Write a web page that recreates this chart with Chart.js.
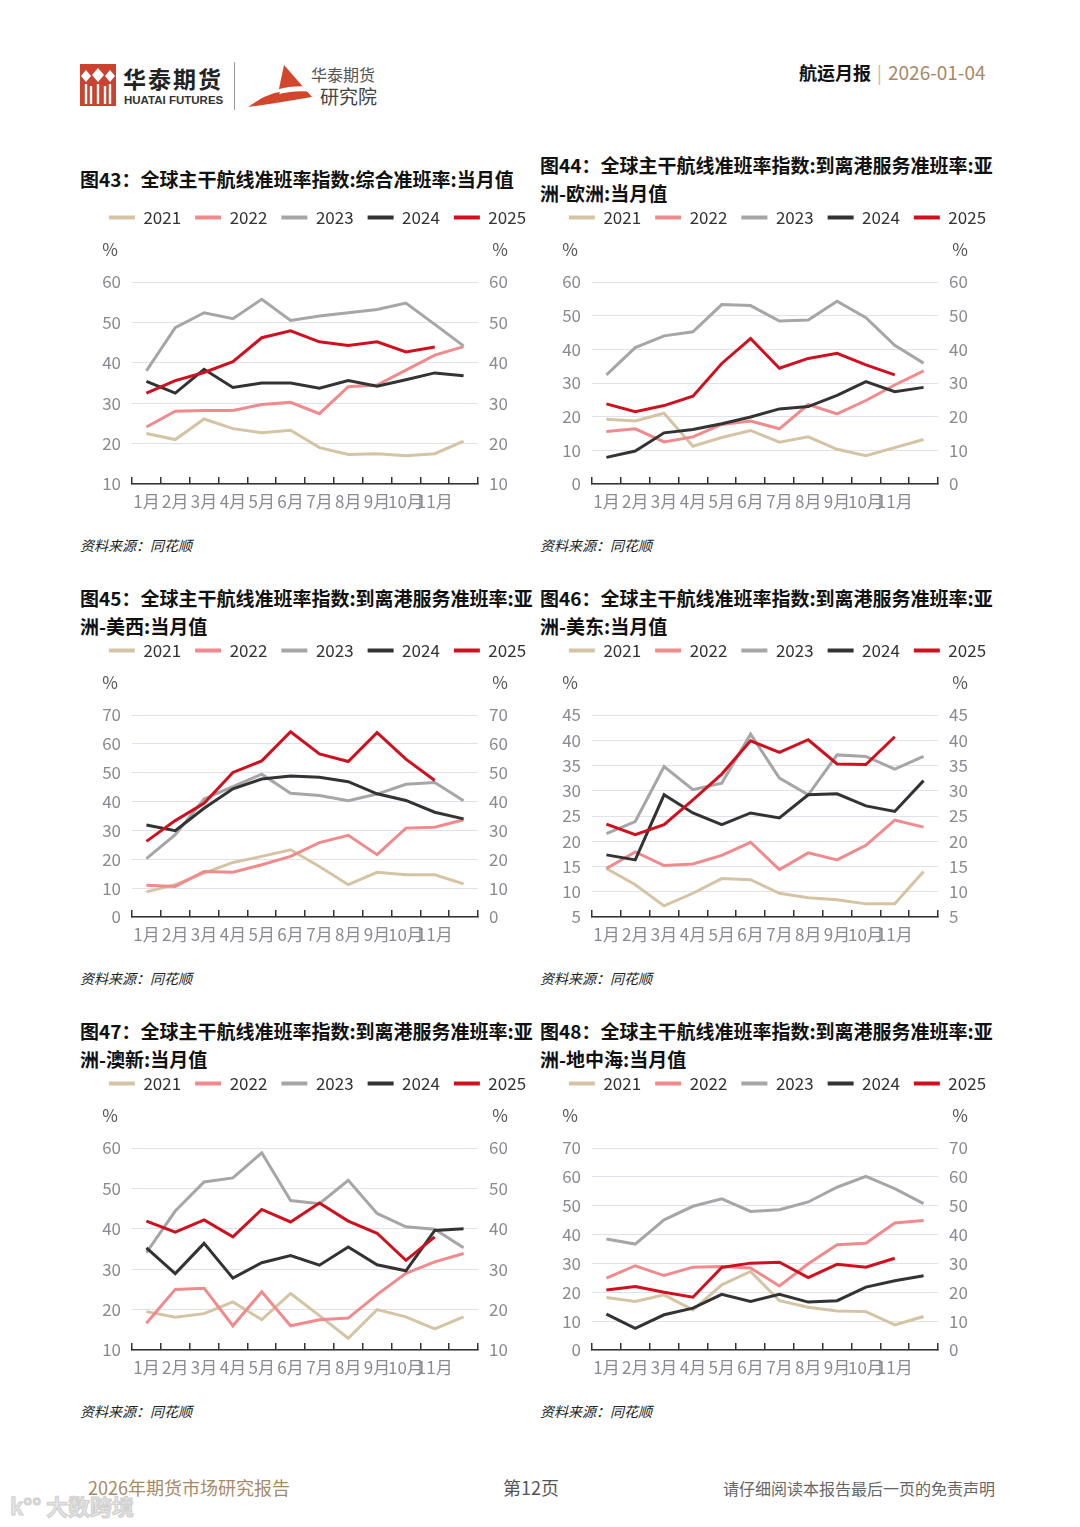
<!DOCTYPE html>
<html>
<head>
<meta charset="utf-8">
<script src="https://cdn.jsdelivr.net/npm/chart.js@4.4.1/dist/chart.umd.min.js"></script>
<style>
  body {
    margin: 0;
    width: 1080px;
    height: 1527px;
    background: #fff;
    position: relative;
    overflow: hidden;
    font-family: "Noto Sans CJK SC", "Noto Sans", sans-serif;
  }
  .abs { position: absolute; }
  .title {
    position: absolute;
    font-size: 19px;
    font-weight: bold;
    color: #111;
    line-height: 28px;
    white-space: nowrap;
  }
  .src {
    position: absolute;
    font-size: 14px;
    font-style: italic;
    color: #222;
    line-height: 20px;
  }
  canvas { position: absolute; }
</style>
</head>
<body>

<!-- header -->
<svg class="abs" style="left:80px;top:64px" width="36" height="42" viewBox="0 0 36 42">
  <rect x="0" y="0" width="36" height="42" fill="#c9432e"/>
  <path d="M6 6 L11 12 L6 18 L1 12 Z M18 4 L24 11 L18 18 L12 11 Z M30 6 L35 12 L30 18 L25 12 Z" fill="#fff"/>
  <path d="M6 20 V40 M11 22 V40 M18 20 V40 M25 22 V40 M30 20 V40" stroke="#fff" stroke-width="2.4"/>
</svg>
<div class="abs" style="left:123px;top:64px;font-size:23px;font-weight:bold;color:#222;letter-spacing:2px;line-height:28px">华泰期货</div>
<div class="abs" style="left:124px;top:93px;font-size:11.5px;font-weight:bold;color:#333;line-height:14px;font-family:'Liberation Sans',sans-serif">HUATAI FUTURES</div>
<div class="abs" style="left:234px;top:62px;width:1px;height:48px;background:#999"></div>
<svg class="abs" style="left:246px;top:63px" width="68" height="46" viewBox="0 0 68 46">
  <path d="M38 2 L66 34 L30 40 Z" fill="#d2462b"/>
  <path d="M2 44 C20 30, 40 24, 64 26" stroke="#fff" stroke-width="5" fill="none"/>
  <path d="M2 44 C16 34, 26 30, 34 29 L30 40 Z" fill="#d2462b"/>
</svg>
<div class="abs" style="left:311px;top:64px;font-size:16px;color:#555;line-height:20px">华泰期货</div>
<div class="abs" style="left:320px;top:84px;font-size:19px;color:#444;line-height:24px">研究院</div>
<div class="abs" style="left:799px;top:60px;font-size:18px;font-weight:bold;color:#111;line-height:24px">航运月报</div>
<div class="abs" style="left:877px;top:60px;font-size:18px;color:#c8b49a;line-height:24px">|</div>
<div class="abs" style="left:888px;top:59px;font-size:19px;color:#a68a68;line-height:26px">2026-01-04</div>

<!-- titles -->
<div class="title" style="left:80px;top:165px">图43：全球主干航线准班率指数:综合准班率:当月值</div>
<div class="title" style="left:540px;top:151px">图44：全球主干航线准班率指数:到离港服务准班率:亚<br>洲-欧洲:当月值</div>
<div class="title" style="left:80px;top:584px">图45：全球主干航线准班率指数:到离港服务准班率:亚<br>洲-美西:当月值</div>
<div class="title" style="left:540px;top:584px">图46：全球主干航线准班率指数:到离港服务准班率:亚<br>洲-美东:当月值</div>
<div class="title" style="left:80px;top:1017px">图47：全球主干航线准班率指数:到离港服务准班率:亚<br>洲-澳新:当月值</div>
<div class="title" style="left:540px;top:1017px">图48：全球主干航线准班率指数:到离港服务准班率:亚<br>洲-地中海:当月值</div>

<canvas id="c43" width="475" height="328" style="left:80px;top:195px"></canvas>
<canvas id="c44" width="475" height="328" style="left:540px;top:195px"></canvas>
<canvas id="c45" width="475" height="328" style="left:80px;top:628px"></canvas>
<canvas id="c46" width="475" height="328" style="left:540px;top:628px"></canvas>
<canvas id="c47" width="475" height="328" style="left:80px;top:1061px"></canvas>
<canvas id="c48" width="475" height="328" style="left:540px;top:1061px"></canvas>

<div class="src" style="left:80px;top:535px">资料来源：同花顺</div>
<div class="src" style="left:540px;top:535px">资料来源：同花顺</div>
<div class="src" style="left:80px;top:968px">资料来源：同花顺</div>
<div class="src" style="left:540px;top:968px">资料来源：同花顺</div>
<div class="src" style="left:80px;top:1401px">资料来源：同花顺</div>
<div class="src" style="left:540px;top:1401px">资料来源：同花顺</div>

<!-- footer -->
<div class="abs" style="left:88px;top:1475px;font-size:18px;color:#a68a68;line-height:24px">2026年期货市场研究报告</div>
<div class="abs" style="left:503px;top:1475px;font-size:18px;color:#555;line-height:24px">第12页</div>
<div class="abs" style="left:723px;top:1477px;font-size:16px;color:#666;line-height:22px">请仔细阅读本报告最后一页的免责声明</div>
<div class="abs" style="left:10px;top:1491px;font-size:22px;font-weight:bold;color:#e4e4e4;line-height:28px;-webkit-text-stroke:1px #cfcfcf">k°° 大数跨境</div>

<script>
const months = ["1月", "2月", "3月", "4月", "5月", "6月", "7月", "8月", "9月", "10月", "11月", "12月"];
const years = ["2021", "2022", "2023", "2024", "2025"];
const lineColors = ["#d5c4a4", "#f08a8c", "#a6a6a6", "#333333", "#d0101e"];

// 图43 综合准班率
const f43_2021 = [22.5, 21.0, 26.1, 23.7, 22.7, 23.3, 19.0, 17.3, 17.5, 17.0, 17.5, 20.6];
const f43_2022 = [24.1, 28.0, 28.2, 28.2, 29.7, 30.2, 27.4, 34.1, 34.5, 38.2, 41.9, 44.0];
const f43_2023 = [38.0, 48.7, 52.4, 50.9, 55.7, 50.5, 51.6, 52.4, 53.2, 54.8, 49.5, 44.2];
const f43_2024 = [35.4, 32.5, 38.4, 33.9, 35.0, 35.0, 33.7, 35.6, 34.2, 35.8, 37.5, 36.8];
const f43_2025 = [32.5, 35.6, 37.6, 40.3, 46.2, 47.9, 45.2, 44.3, 45.2, 42.7, 43.9, null];

// 图44 亚洲-欧洲
const f44_2021 = [19.2, 18.7, 21.0, 11.2, 13.8, 15.9, 12.4, 14.0, 10.3, 8.4, 10.8, 13.2];
const f44_2022 = [15.6, 16.4, 12.5, 14.0, 17.7, 18.7, 16.4, 23.6, 20.8, 24.8, 29.4, 33.6];
const f44_2023 = [32.4, 40.5, 44.0, 45.2, 53.3, 53.0, 48.4, 48.7, 54.3, 49.4, 41.2, 35.9];
const f44_2024 = [7.9, 9.8, 15.2, 16.2, 17.9, 19.9, 22.3, 23.0, 26.3, 30.4, 27.4, 28.7];
const f44_2025 = [23.8, 21.5, 23.3, 26.1, 35.8, 43.2, 34.4, 37.3, 38.8, 35.4, 32.4, null];

// 图45 亚洲-美西
const f45_2021 = [8.7, 11.2, 15.2, 18.9, 21.0, 23.3, 17.5, 11.2, 15.5, 14.6, 14.6, 11.5];
const f45_2022 = [11.0, 10.6, 15.8, 15.5, 18.1, 21.0, 25.8, 28.3, 21.6, 30.8, 31.1, 33.7];
const f45_2023 = [20.2, 28.5, 40.9, 45.2, 49.5, 42.9, 42.1, 40.3, 42.6, 46.0, 46.6, 40.3];
const f45_2024 = [31.9, 29.9, 37.7, 44.4, 47.8, 48.9, 48.4, 46.9, 42.7, 40.4, 36.3, 34.0];
const f45_2025 = [26.2, 33.4, 39.4, 50.1, 54.1, 64.2, 56.5, 53.9, 63.9, 54.7, 47.3, null];

// 图46 亚洲-美东
const f46_2021 = [14.6, 11.4, 7.2, 9.7, 12.6, 12.4, 9.7, 8.8, 8.4, 7.6, 7.6, 14.0];
const f46_2022 = [14.6, 17.9, 15.2, 15.5, 17.2, 19.8, 14.4, 17.7, 16.3, 19.2, 24.2, 22.8];
const f46_2023 = [21.5, 23.9, 34.8, 30.2, 31.5, 41.2, 32.5, 29.2, 37.1, 36.8, 34.3, 36.8];
const f46_2024 = [17.3, 16.3, 29.2, 25.6, 23.3, 25.6, 24.6, 29.2, 29.4, 27.0, 25.9, 32.0];
const f46_2025 = [23.4, 21.3, 23.3, 28.2, 33.3, 39.9, 37.6, 40.1, 35.3, 35.2, 40.7, null];

// 图47 亚洲-澳新
const f47_2021 = [19.5, 18.1, 19.0, 21.9, 17.5, 24.0, 18.5, 12.9, 20.0, 18.2, 15.2, 18.2];
const f47_2022 = [16.6, 25.0, 25.3, 16.0, 24.4, 16.0, 17.5, 17.9, 23.7, 29.0, 31.8, 33.9];
const f47_2023 = [34.1, 44.4, 51.6, 52.6, 58.8, 47.0, 46.2, 52.0, 43.8, 40.5, 39.9, 35.3];
const f47_2024 = [35.3, 28.9, 36.4, 27.8, 31.6, 33.4, 31.0, 35.5, 31.1, 29.6, 39.6, 40.0];
const f47_2025 = [41.9, 39.2, 42.2, 38.0, 44.8, 41.7, 46.4, 41.9, 38.9, 32.2, 38.0, null];

// 图48 亚洲-地中海
const f48_2021 = [18.2, 16.8, 19.1, 13.9, 22.6, 27.2, 17.1, 14.8, 13.5, 13.3, 8.7, 11.6];
const f48_2022 = [24.9, 29.2, 25.8, 28.7, 28.9, 28.4, 22.2, 29.9, 36.5, 37.0, 44.0, 44.9];
const f48_2023 = [38.5, 36.7, 45.1, 49.8, 52.4, 48.0, 48.6, 51.3, 56.4, 60.2, 55.9, 50.7];
const f48_2024 = [12.4, 7.5, 12.2, 14.5, 19.3, 16.8, 19.3, 16.6, 17.1, 21.8, 24.0, 25.7];
const f48_2025 = [20.8, 22.0, 20.0, 18.3, 28.6, 30.1, 30.4, 25.1, 29.7, 28.7, 31.8, null];

const FONT = '"Noto Sans CJK SC", "Noto Sans", sans-serif';
const TICK_COLOR = "#8a8a90";

// "%" unit marks above both value axes
const percentMark = {
  id: "percentMark",
  afterDraw(chart) {
    const { ctx, chartArea } = chart;
    ctx.save();
    ctx.font = "17px " + FONT;
    ctx.fillStyle = "#555";
    ctx.textAlign = "center";
    ctx.textBaseline = "middle";
    ctx.fillText("%", chartArea.left - 22, chartArea.top - 32);
    ctx.fillText("%", chartArea.right + 22, chartArea.top - 32);
    ctx.restore();
  },
};

function makeChart(id, series, yMin, yMax, step) {
  const yTicks = {
    stepSize: step,
    color: TICK_COLOR,
    font: { size: 17, family: FONT },
    padding: 11,
  };

  return new Chart(document.getElementById(id), {
    type: "line",
    data: {
      labels: months,
      datasets: series.map((data, i) => ({
        label: years[i],
        data: data,
        borderColor: lineColors[i],
        backgroundColor: lineColors[i],
        borderWidth: 3,
        pointRadius: 0,
        tension: 0,
        fill: false,
        order: series.length - i,
        yAxisID: "y",
      })),
    },
    options: {
      animation: false,
      responsive: false,
      layout: { padding: 0 },
      plugins: {
        legend: {
          display: true,
          position: "top",
          labels: {
            boxWidth: 26,
            boxHeight: 4,
            padding: 14,
            color: "#333",
            font: { size: 17, family: FONT },
            sort: (a, b) => a.datasetIndex - b.datasetIndex,
            generateLabels: (chart) =>
              Chart.defaults.plugins.legend.labels
                .generateLabels(chart)
                .map((l) => Object.assign(l, { lineWidth: 0 })),
          },
        },
        // empty spacer between legend and plot
        title: {
          display: true,
          text: " ",
          weight: 500,
          font: { size: 10 },
          padding: { top: 0, bottom: 34 },
        },
        tooltip: { enabled: false },
      },
      scales: {
        x: {
          offset: true,
          grid: {
            offset: true,
            drawOnChartArea: false,
            drawTicks: true,
            tickLength: -7,
            color: "#333",
            lineWidth: 1.5,
          },
          border: { display: true, color: "#333", width: 1.5 },
          ticks: {
            autoSkip: false,
            maxRotation: 0,
            minRotation: 0,
            padding: 14,
            color: TICK_COLOR,
            font: { size: 17, family: FONT },
            callback: function (value, index) {
              return index === 11 ? "" : this.getLabelForValue(value);
            },
          },
          afterFit: (scale) => { scale.height = 39; },
        },
        y: {
          position: "left",
          min: yMin,
          max: yMax,
          ticks: yTicks,
          grid: { color: "#dfe2ea", lineWidth: 1, drawTicks: false },
          border: { display: false },
          afterFit: (scale) => { scale.width = 52; },
        },
        y1: {
          position: "right",
          min: yMin,
          max: yMax,
          ticks: Object.assign({}, yTicks),
          grid: { drawOnChartArea: false, drawTicks: false },
          border: { display: false },
          afterFit: (scale) => { scale.width = 77; },
        },
      },
    },
    plugins: [percentMark],
  });
}

makeChart("c43", [f43_2021, f43_2022, f43_2023, f43_2024, f43_2025], 10, 60, 10);
makeChart("c44", [f44_2021, f44_2022, f44_2023, f44_2024, f44_2025], 0, 60, 10);
makeChart("c45", [f45_2021, f45_2022, f45_2023, f45_2024, f45_2025], 0, 70, 10);
makeChart("c46", [f46_2021, f46_2022, f46_2023, f46_2024, f46_2025], 5, 45, 5);
makeChart("c47", [f47_2021, f47_2022, f47_2023, f47_2024, f47_2025], 10, 60, 10);
makeChart("c48", [f48_2021, f48_2022, f48_2023, f48_2024, f48_2025], 0, 70, 10);
</script>
</body>
</html>
